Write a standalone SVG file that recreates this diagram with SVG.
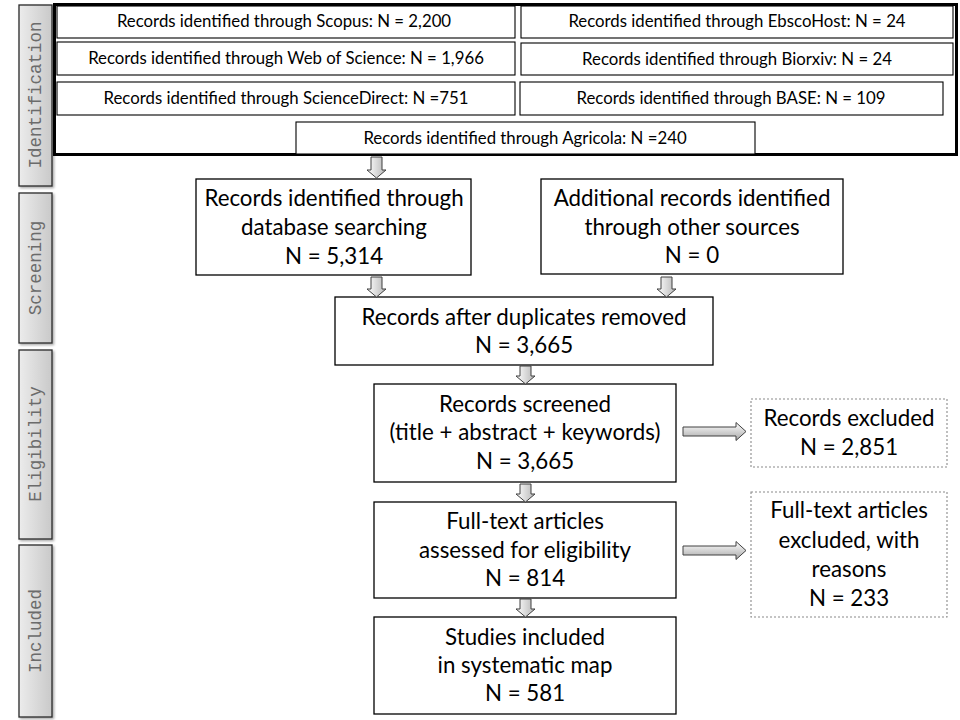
<svg xmlns="http://www.w3.org/2000/svg" width="960" height="720" viewBox="0 0 960 720">
<defs>
<linearGradient id="tabg" x1="0" y1="0" x2="1" y2="0">
<stop offset="0" stop-color="#ececec"/><stop offset="1" stop-color="#c9c9c9"/>
</linearGradient>
<linearGradient id="vg" x1="0" y1="0" x2="1" y2="0">
<stop offset="0" stop-color="#ffffff"/><stop offset="1" stop-color="#b5b5b5"/>
</linearGradient>
<linearGradient id="hg" x1="0" y1="0" x2="0" y2="1">
<stop offset="0" stop-color="#ffffff"/><stop offset="1" stop-color="#a8a8a8"/>
</linearGradient>
<filter id="sh" x="-20%" y="-5%" width="150%" height="115%">
<feDropShadow dx="1.5" dy="1.5" stdDeviation="1.2" flood-color="#000" flood-opacity="0.35"/>
</filter>
</defs>
<style>
.tab{fill:url(#tabg);stroke:#2a2a2a;stroke-width:1.3}
.tabt{font-family:"Liberation Mono",monospace;font-size:17.5px;fill:#6b6b6b;text-anchor:middle}
.db{fill:#fff;stroke:#000;stroke-width:1.1}
.dbt{font-family:Lato,"Open Sans",sans-serif;font-size:16.8px;fill:#000;text-anchor:middle}
.bx{fill:#fff;stroke:#000;stroke-width:1.3}
.bt{font-family:Lato,"Open Sans",sans-serif;font-size:22.3px;fill:#000;text-anchor:middle}
.dx{fill:#fff;stroke:#8a8a8a;stroke-width:1.1;stroke-dasharray:2,2}
.va{fill:url(#vg);stroke:#404040;stroke-width:1}
.ha{fill:url(#hg);stroke:#404040;stroke-width:1}
</style>
<rect width="960" height="720" fill="#fff"/>

<g id="tabs">
<g id="tab-identification"><rect class="tab" x="19" y="5" width="33" height="181" filter="url(#sh)"/><text class="tabt" transform="translate(41,95) rotate(-90)">Identification</text></g>
<g id="tab-screening"><rect class="tab" x="19" y="193" width="33" height="150" filter="url(#sh)"/><text class="tabt" transform="translate(41,268) rotate(-90)">Screening</text></g>
<g id="tab-eligibility"><rect class="tab" x="19" y="350" width="33" height="189" filter="url(#sh)"/><text class="tabt" transform="translate(41,444) rotate(-90)">Eligibility</text></g>
<g id="tab-included"><rect class="tab" x="19" y="545" width="33" height="172" filter="url(#sh)"/><text class="tabt" transform="translate(41,631) rotate(-90)">Included</text></g>
</g>

<g id="identification-group">
<rect x="54.5" y="4.5" width="902" height="150" fill="#fff" stroke="#000" stroke-width="3"/>
<g id="scopus"><rect class="db" x="57" y="6" width="458" height="32"/><text class="dbt" x="284" y="27">Records identified through Scopus: N = 2,200</text></g>
<g id="wos"><rect class="db" x="57" y="42" width="458" height="33"/><text class="dbt" x="286" y="64">Records identified through Web of Science: N = 1,966</text></g>
<g id="sciencedirect"><rect class="db" x="57" y="82" width="458" height="33"/><text class="dbt" x="286" y="104">Records identified through ScienceDirect: N =751</text></g>
<g id="ebscohost"><rect class="db" x="521" y="6" width="432" height="32"/><text class="dbt" x="737" y="27">Records identified through EbscoHost: N = 24</text></g>
<g id="biorxiv"><rect class="db" x="521" y="43" width="432" height="32"/><text class="dbt" x="737" y="65">Records identified through Biorxiv: N = 24</text></g>
<g id="base"><rect class="db" x="520" y="82" width="423" height="33"/><text class="dbt" x="731" y="104">Records identified through BASE: N = 109</text></g>
<g id="agricola"><rect class="db" x="296" y="122" width="459" height="32"/><text class="dbt" x="525" y="144">Records identified through Agricola: N =240</text></g>
</g>

<g id="database-searching"><rect class="bx" x="196" y="179" width="275" height="96"/>
<text class="bt" x="334" y="206">Records identified through</text>
<text class="bt" x="334" y="235">database searching</text>
<text class="bt" x="334" y="264">N = 5,314</text></g>

<g id="other-sources"><rect class="bx" x="541" y="179" width="302" height="95"/>
<text class="bt" x="692" y="206">Additional records identified</text>
<text class="bt" x="692" y="235">through other sources</text>
<text class="bt" x="692" y="263">N = 0</text></g>

<g id="duplicates-removed"><rect class="bx" x="335" y="297" width="378" height="68"/>
<text class="bt" x="524" y="325">Records after duplicates removed</text>
<text class="bt" x="524" y="353">N = 3,665</text></g>

<g id="records-screened"><rect class="bx" x="374" y="384" width="302" height="98"/>
<text class="bt" x="525" y="412">Records screened</text>
<text class="bt" x="525" y="440">(title + abstract + keywords)</text>
<text class="bt" x="525" y="469">N = 3,665</text></g>

<g id="full-text-assessed"><rect class="bx" x="374" y="502" width="302" height="96"/>
<text class="bt" x="525" y="529">Full-text articles</text>
<text class="bt" x="525" y="558">assessed for eligibility</text>
<text class="bt" x="525" y="586">N = 814</text></g>

<g id="studies-included"><rect class="bx" x="374" y="617" width="302" height="97"/>
<text class="bt" x="525" y="645">Studies included</text>
<text class="bt" x="525" y="673">in systematic map</text>
<text class="bt" x="525" y="701">N = 581</text></g>

<g id="records-excluded"><rect class="dx" x="751" y="399" width="196" height="68"/>
<text class="bt" x="849" y="426">Records excluded</text>
<text class="bt" x="849" y="455">N = 2,851</text></g>

<g id="full-text-excluded"><rect class="dx" x="751" y="492" width="196" height="125"/>
<text class="bt" x="849" y="518">Full-text articles</text>
<text class="bt" x="849" y="548">excluded, with</text>
<text class="bt" x="849" y="577">reasons</text>
<text class="bt" x="849" y="606">N = 233</text></g>

<g id="connectors">
<path class="va" d="M371,157 h11 v13 h4 l-9.5,8 l-9.5,-8 h4 z"/>
<path class="va" d="M371,277 h11 v12 h4 l-9.5,8 l-9.5,-8 h4 z"/>
<path class="va" d="M661,277 h11 v12 h4 l-9.5,8 l-9.5,-8 h4 z"/>
<path class="va" d="M520,366 h11 v10 h4 l-9.5,8 l-9.5,-8 h4 z"/>
<path class="va" d="M520,484 h11 v10 h4 l-9.5,8 l-9.5,-8 h4 z"/>
<path class="va" d="M520,599 h11 v10 h4 l-9.5,8 l-9.5,-8 h4 z"/>
<path class="ha" d="M683,427 h53 v-4.5 l10,9 l-10,9 v-4.5 h-53 z"/>
<path class="ha" d="M683,546 h53 v-4.5 l10,9 l-10,9 v-4.5 h-53 z"/>
</g>
</svg>
